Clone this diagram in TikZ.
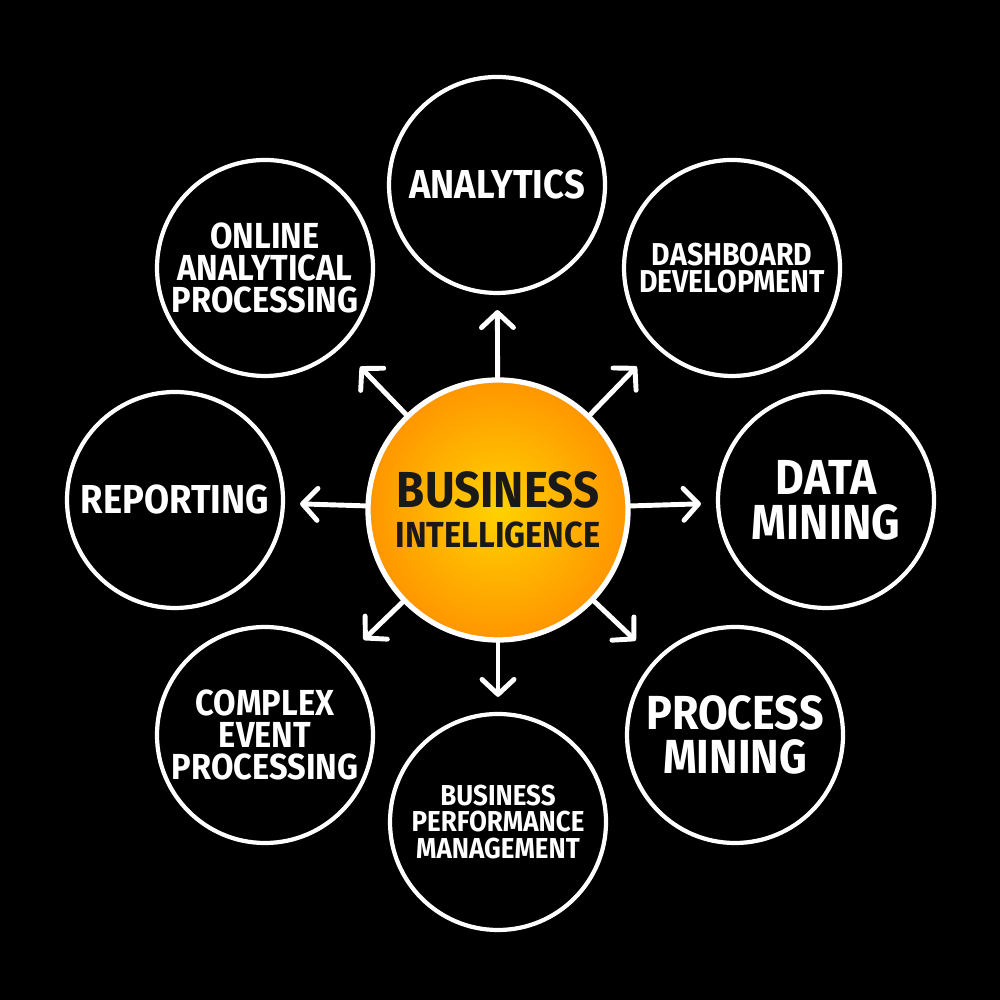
\documentclass[tikz,border=0pt]{standalone}
\usepackage{fontspec}
\setmainfont{Fira Sans}[FakeStretch=0.9]
\usetikzlibrary{arrows.meta}
\definecolor{hubyellow}{HTML}{FFD200}
\definecolor{huborange}{HTML}{FF9600}
\newcommand{\fs}[2]{\fontsize{#1}{#2}\selectfont}
\begin{document}
\begin{tikzpicture}[line width=1.4pt, line cap=round, >={Straight Barb[length=0.15cm, width=0.32cm, round]},
    every node/.style={circle, draw=white, line width=1.2pt, minimum size=2.16cm, inner sep=0pt, text=white, align=center, font=\bfseries}]

    \fill[black] (0,0) rectangle (10,10);

    \node[minimum size=2.6cm, line width=1.5pt, inner color=hubyellow, outer color=huborange, text=black!90, font=\bfseries\fs{10.3}{11}] (bi) at (4.98, 4.90)
        {{\fs{14.4}{14}BUSINESS}\\[0.5pt]INTELLIGENCE};

    \node[font=\bfseries\fs{11.5}{12}] (analytics) at (4.97, 8.15) {ANALYTICS};
    \node[font=\bfseries\fs{9}{7.9}] (dashboard) at (7.32, 7.32) {DASHBOARD\\DEVELOPMENT};
    \node[font=\bfseries\fs{14}{12.8}] (datamining) at (8.26, 5.00) {DATA\\MINING};
    \node[font=\bfseries\fs{13.6}{12.4}] (procmining) at (7.35, 2.65) {PROCESS\\MINING};
    \node[font=\bfseries\fs{8.2}{7.6}] (bpm) at (4.98, 1.78) {BUSINESS\\PERFORMANCE\\MANAGEMENT};
    \node[font=\bfseries\fs{10.3}{9.1}] (cep) at (2.65, 2.65) {COMPLEX\\EVENT\\PROCESSING};
    \node[font=\bfseries\fs{11.5}{12}] (reporting) at (1.75, 5.00) {REPORTING};
    \node[font=\bfseries\fs{10.3}{9.2}] (olap) at (2.65, 7.32) {ONLINE\\ANALYTICAL\\PROCESSING};

    % arrows out of the hub
    \foreach \topic in {analytics, datamining, bpm, reporting}
        \draw[->, white, shorten >=0.15cm] (bi) -- (\topic);
    \foreach \topic in {dashboard, procmining, cep, olap}
        \draw[->, white, shorten >=0.27cm] (bi) -- (\topic);

\end{tikzpicture}
\end{document}
